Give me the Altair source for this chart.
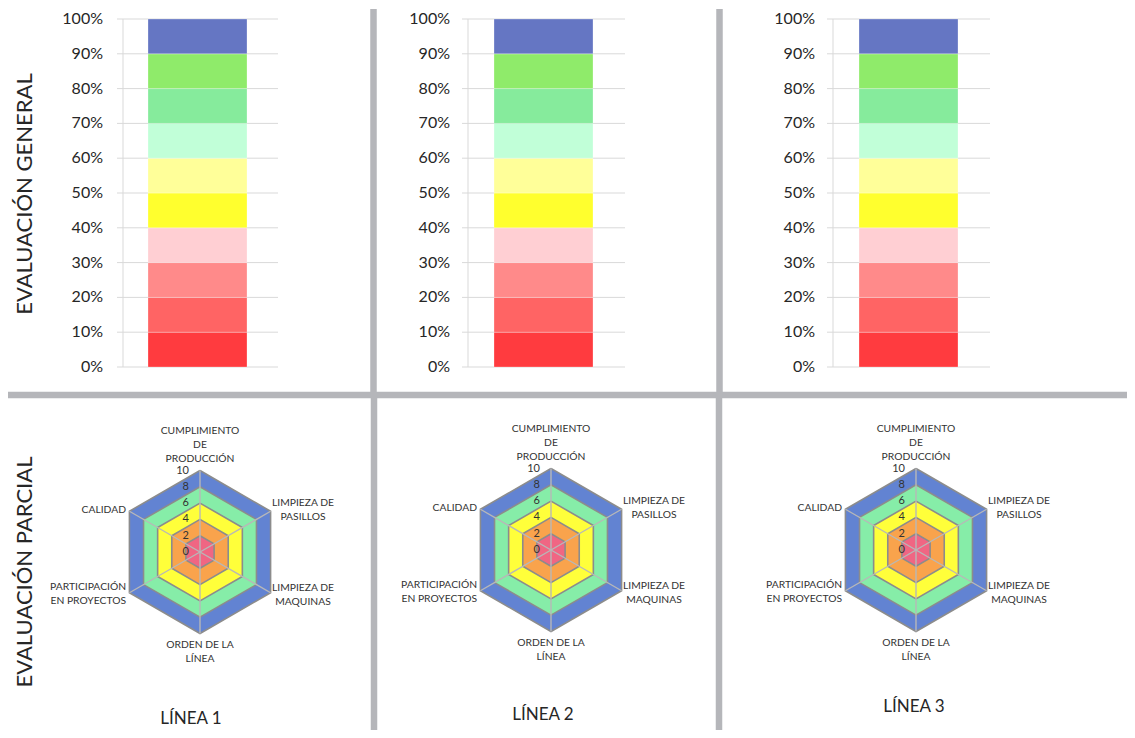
import altair as alt
import numpy as np
import pandas as pd

# ------------------------------------------------------------------ data
panel_titles = ["LÍNEA 1", "LÍNEA 2", "LÍNEA 3"]
row_titles = ["EVALUACIÓN GENERAL", "EVALUACIÓN PARCIAL"]

segment_names = ["0-10%", "10-20%", "20-30%", "30-40%", "40-50%",
                 "50-60%", "60-70%", "70-80%", "80-90%", "90-100%"]
segment_share = [10, 10, 10, 10, 10, 10, 10, 10, 10, 10]
pct_ticks = [0, 10, 20, 30, 40, 50, 60, 70, 80, 90, 100]
pct_tick_labels = ["0%", "10%", "20%", "30%", "40%", "50%",
                   "60%", "70%", "80%", "90%", "100%"]

radar_categories = [
    ["CUMPLIMIENTO", "DE", "PRODUCCIÓN"],
    ["LIMPIEZA DE", "PASILLOS"],
    ["LIMPIEZA DE", "MAQUINAS"],
    ["ORDEN DE LA", "LÍNEA"],
    ["PARTICIPACIÓN", "EN PROYECTOS"],
    ["CALIDAD"],
]
radar_band_names = ["Nivel 10", "Nivel 8", "Nivel 6", "Nivel 4", "Nivel 2"]
radar_band_values = [
    [10, 10, 10, 10, 10, 10],
    [8, 8, 8, 8, 8, 8],
    [6, 6, 6, 6, 6, 6],
    [4, 4, 4, 4, 4, 4],
    [2, 2, 2, 2, 2, 2],
]
radar_ticks = [0, 2, 4, 6, 8, 10]
radar_max = 10

# ------------------------------------------------------------------ styles
FONT = "Lato"
TEXT = "#262626"
segment_colors = ["#ff3b3f", "#ff6464", "#ff8a8a", "#ffcfd3", "#ffff2e",
                  "#ffff99", "#c1ffd8", "#86eb9c", "#8feb6a", "#6576c3"]
band_colors = ["#6283d2", "#86eda8", "#ffff3a", "#f9a34c", "#f06683"]
GRID = "#d9d9d9"
SEP = "#b5b6ba"

# ------------------------------------------------------------------ layout (page pixels)
OFF = 8                     # page margin
W, H = 1119, 722
Y_TOP, Y_BOT = 19, 367
BAR_LAYOUT = [
    dict(label_right=103, grid_left=117, grid_right=278, axis_x=123, bar_left=148, bar_right=247),
    dict(label_right=450, grid_left=462, grid_right=625, axis_x=468, bar_left=494, bar_right=593),
    dict(label_right=815, grid_left=827, grid_right=990, axis_x=833, bar_left=859, bar_right=958),
]
RADAR_CENTERS = [(200, 552), (551, 550), (916, 550)]
R = 81.5
CAT_OFFSETS = [  # (dx, dy of first line, align)
    (0, -121.5, "center"),
    (103, -49.5, "center"),
    (103, 35.5, "center"),
    (0, 92.5, "center"),
    (-74, 34.5, "right"),
    (-74, -42.5, "right"),
]
LINE_H = 14
TITLE_POS = [(191, 719), (543, 715), (914, 707)]
ROW_TITLE_POS = [(25, 194), (25, 572)]


def px(v):
    return v - OFF


layers = []

# ------------------------------------------------------------------ separators
sep_specs = [
    (8, 1135, 395, 395),
    (373.5, 373.5, 9, 395),
    (719.5, 719.5, 9, 395),
    (374, 374, 395, 738),
    (719, 719, 395, 738),
]
for x1, x2, y1, y2 in sep_specs:
    layers.append(
        alt.Chart(pd.DataFrame({"s": [0]})).mark_rule(color=SEP, strokeWidth=6.5).encode(
            x=alt.value(px(x1)), x2=alt.value(px(x2)),
            y=alt.value(px(y1)), y2=alt.value(px(y2)))
    )

# ------------------------------------------------------------------ stacked bars
for i, title in enumerate(panel_titles):
    L = BAR_LAYOUT[i]
    ys = alt.Scale(domain=[0, 100], range=[px(Y_BOT), px(Y_TOP)], nice=False)
    xs = alt.Scale(domain=[title], range=[px(L["bar_left"]), px(L["bar_right"])],
                   paddingInner=0, paddingOuter=0)
    bar_df = pd.DataFrame({"line": title, "segment": segment_names,
                           "share": segment_share, "k": list(range(len(segment_names)))})
    tick_df = pd.DataFrame({"tick": pct_ticks, "label": pct_tick_labels})

    grid = alt.Chart(tick_df).mark_rule(color=GRID, strokeWidth=1).encode(
        y=alt.Y("tick:Q", scale=ys, axis=None),
        x=alt.value(px(L["grid_left"])), x2=alt.value(px(L["grid_right"])))
    axis_line = alt.Chart(tick_df).mark_rule(color=GRID, strokeWidth=1).encode(
        y=alt.Y("min(tick):Q", scale=ys, axis=None), y2="max(tick):Q",
        x=alt.value(px(L["axis_x"])))
    bars = alt.Chart(bar_df).mark_bar(stroke="white", strokeWidth=0.6, strokeOpacity=0.45).encode(
        x=alt.X("line:N", scale=xs, axis=None),
        y=alt.Y("share:Q", stack="zero", scale=ys, axis=None),
        color=alt.Color("segment:N", scale=alt.Scale(domain=segment_names, range=segment_colors),
                        legend=None),
        order=alt.Order("k:Q"))
    labels = alt.Chart(tick_df).mark_text(align="right", baseline="middle", font=FONT,
                                          fontSize=16, color=TEXT).encode(
        y=alt.Y("tick:Q", scale=ys, axis=None),
        x=alt.value(px(L["label_right"])),
        text="label:N")
    layers.append(alt.layer(grid, axis_line, bars, labels))

# ------------------------------------------------------------------ radars
angles = np.deg2rad(np.arange(len(radar_categories)) * 60.0)
for i, (cx, cy) in enumerate(RADAR_CENTERS):
    xs = alt.Scale(domain=[-radar_max, radar_max], range=[px(cx - R), px(cx + R)], nice=False, zero=False)
    ys = alt.Scale(domain=[-radar_max, radar_max], range=[px(cy + R), px(cy - R)], nice=False, zero=False)
    sub = []
    for b, vals in enumerate(radar_band_values):
        idx = list(range(len(vals))) + [0]
        poly_df = pd.DataFrame({
            "band": radar_band_names[b],
            "k": list(range(len(idx))),
            "x": [vals[j] * np.sin(angles[j]) for j in idx],
            "y": [vals[j] * np.cos(angles[j]) for j in idx],
        })
        sub.append(
            alt.Chart(poly_df).mark_line(fill=band_colors[b], stroke="#8c8c8c", strokeWidth=1.6,
                                         strokeJoin="miter").encode(
                x=alt.X("x:Q", scale=xs, axis=None),
                y=alt.Y("y:Q", scale=ys, axis=None),
                order=alt.Order("k:Q"))
        )
    spoke_df = pd.DataFrame({
        "x0": [0.0] * len(angles), "y0": [0.0] * len(angles),
        "x1": radar_max * np.sin(angles), "y1": radar_max * np.cos(angles)})
    sub.append(
        alt.Chart(spoke_df).mark_rule(color="#b8b8b8", strokeWidth=1.4).encode(
            x=alt.X("x0:Q", scale=xs, axis=None), y=alt.Y("y0:Q", scale=ys, axis=None),
            x2="x1:Q", y2="y1:Q")
    )
    tick_df = pd.DataFrame({"tick": radar_ticks})
    sub.append(
        alt.Chart(tick_df).mark_text(align="right", baseline="middle", font=FONT,
                                     fontSize=11, color="#333333").encode(
            y=alt.Y("tick:Q", scale=ys, axis=None),
            x=alt.value(px(cx - 11)),
            text="tick:Q")
    )
    layers.append(alt.layer(*sub))

    # category labels
    for c, lines_ in enumerate(radar_categories):
        dx, dy, align = CAT_OFFSETS[c]
        for j, txt in enumerate(lines_):
            layers.append(
                alt.Chart(pd.DataFrame({"s": [0]})).mark_text(
                    align=align, baseline="middle", font=FONT, fontSize=10.3,
                    color="#333333").encode(
                    x=alt.value(px(cx + dx)), y=alt.value(px(cy + dy + j * LINE_H)),
                    text=alt.value(txt))
            )

# ------------------------------------------------------------------ titles
for t, (tx, ty) in zip(panel_titles, TITLE_POS):
    layers.append(
        alt.Chart(pd.DataFrame({"s": [0]})).mark_text(
            align="center", baseline="middle", font=FONT, fontSize=17, color=TEXT).encode(
            x=alt.value(px(tx)), y=alt.value(px(ty)), text=alt.value(t))
    )
for t, (tx, ty) in zip(row_titles, ROW_TITLE_POS):
    layers.append(
        alt.Chart(pd.DataFrame({"s": [0]})).mark_text(
            align="center", baseline="middle", angle=270, font=FONT, fontSize=22,
            color=TEXT).encode(
            x=alt.value(px(tx)), y=alt.value(px(ty)), text=alt.value(t))
    )

chart = alt.layer(*layers).resolve_scale(
    x="independent", y="independent", color="independent"
).properties(
    width=W, height=H, autosize=alt.AutoSizeParams(type="none"), padding=0
).configure_view(stroke=None)

chart.save("out.html", embed_options={"renderer": "svg", "actions": False})
